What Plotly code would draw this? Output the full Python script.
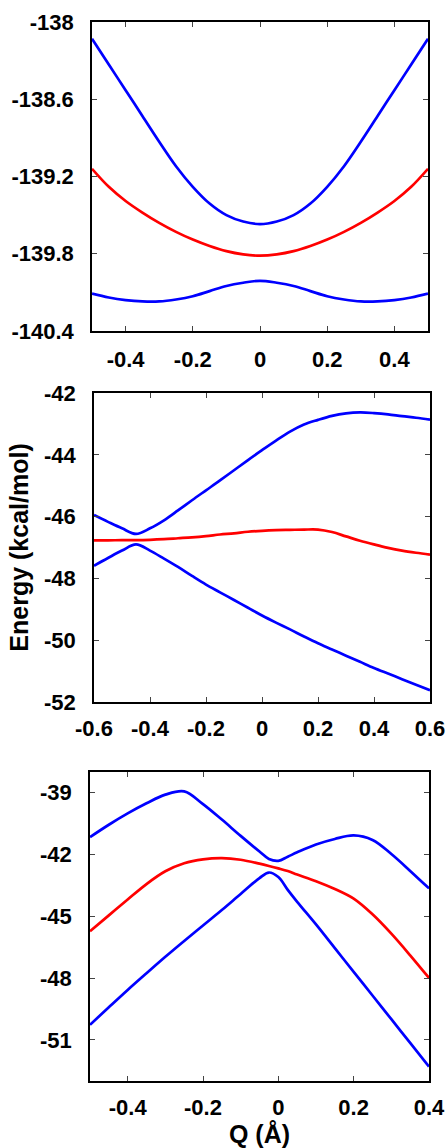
import plotly.graph_objects as go

# ---------------- data ----------------
# Panel 1
q1 = [-0.5, -0.45, -0.4, -0.35, -0.3, -0.25, -0.2, -0.15, -0.1, -0.05, 0,
      0.05, 0.1, 0.15, 0.2, 0.25, 0.3, 0.35, 0.4, 0.45, 0.5]
p1_upper = [-138.13, -138.33, -138.53, -138.73, -138.93, -139.12, -139.28, -139.41, -139.50, -139.55, -139.57,
            -139.55, -139.50, -139.41, -139.28, -139.12, -138.93, -138.73, -138.53, -138.33, -138.13]
p1_red = [-139.14, -139.28, -139.39, -139.48, -139.56, -139.63, -139.69, -139.74, -139.78, -139.805, -139.815,
          -139.805, -139.78, -139.74, -139.69, -139.63, -139.56, -139.48, -139.39, -139.28, -139.14]
p1_lower = [-140.11, -140.14, -140.16, -140.17, -140.17, -140.155, -140.13, -140.09, -140.05, -140.025, -140.01,
            -140.025, -140.05, -140.09, -140.13, -140.155, -140.17, -140.17, -140.16, -140.14, -140.11]

# Panel 2
q2 = [-0.6, -0.55, -0.5, -0.45, -0.4, -0.35, -0.3, -0.25, -0.2, -0.15, -0.1, -0.05, 0,
      0.05, 0.1, 0.15, 0.2, 0.25, 0.3, 0.35, 0.4, 0.45, 0.5, 0.55, 0.6]
p2_upper = [-45.95, -46.17, -46.38, -46.56, -46.38, -46.12, -45.80, -45.47, -45.15, -44.83, -44.50, -44.17, -43.85,
            -43.54, -43.25, -43.02, -42.87, -42.74, -42.66, -42.63, -42.65, -42.69, -42.75, -42.80, -42.86]
p2_red = [-46.77, -46.77, -46.76, -46.76, -46.75, -46.73, -46.70, -46.67, -46.63, -46.58, -46.54, -46.49, -46.46,
          -46.44, -46.43, -46.42, -46.42, -46.50, -46.64, -46.78, -46.90, -47.01, -47.10, -47.17, -47.23]
p2_lower = [-47.59, -47.34, -47.10, -46.90, -47.10, -47.36, -47.63, -47.92, -48.20, -48.45, -48.70, -48.95, -49.20,
            -49.43, -49.65, -49.88, -50.10, -50.30, -50.50, -50.70, -50.90, -51.08, -51.26, -51.44, -51.62]

# Panel 3
q3 = [-0.5, -0.45, -0.4, -0.35, -0.3, -0.25, -0.2, -0.15, -0.1, -0.05, -0.025, 0, 0.025,
      0.05, 0.1, 0.15, 0.2, 0.25, 0.3, 0.35, 0.4]
p3_upper = [-41.16, -40.56, -40.01, -39.52, -39.10, -38.94, -39.56, -40.31, -41.10, -41.86, -42.22, -42.31, -42.11,
            -41.90, -41.52, -41.25, -41.08, -41.30, -41.98, -42.80, -43.65]
p3_red = [-45.73, -44.96, -44.19, -43.44, -42.82, -42.43, -42.24, -42.18, -42.26, -42.45, -42.56, -42.68, -42.81,
          -42.98, -43.30, -43.68, -44.15, -44.91, -45.85, -46.90, -48.00]
p3_lower = [-50.27, -49.42, -48.58, -47.77, -46.97, -46.20, -45.45, -44.70, -43.92, -43.15, -42.88, -43.10, -43.72,
            -44.30, -45.40, -46.55, -47.70, -48.85, -50.00, -51.15, -52.30]

# tick labels
p1_xticks = [-0.4, -0.2, 0, 0.2, 0.4]
p1_xtext = ["-0.4", "-0.2", "0", "0.2", "0.4"]
p1_yticks = [-140.4, -139.8, -139.2, -138.6, -138]
p1_ytext = ["-140.4", "-139.8", "-139.2", "-138.6", "-138"]

p2_xticks = [-0.6, -0.4, -0.2, 0, 0.2, 0.4, 0.6]
p2_xtext = ["-0.6", "-0.4", "-0.2", "0", "0.2", "0.4", "0.6"]
p2_yticks = [-52, -50, -48, -46, -44, -42]
p2_ytext = ["-52", "-50", "-48", "-46", "-44", "-42"]

p3_xticks = [-0.4, -0.2, 0, 0.2, 0.4]
p3_xtext = ["-0.4", "-0.2", "0", "0.2", "0.4"]
p3_yticks = [-51, -48, -45, -42, -39]
p3_ytext = ["-51", "-48", "-45", "-42", "-39"]

BLUE = "#0000FF"
RED = "#FF0000"

W, H = 448, 1148

fig = go.Figure()

panels = [
    (q1, [(p1_upper, BLUE), (p1_red, RED), (p1_lower, BLUE)], "x", "y"),
    (q2, [(p2_upper, BLUE), (p2_red, RED), (p2_lower, BLUE)], "x2", "y2"),
    (q3, [(p3_upper, BLUE), (p3_red, RED), (p3_lower, BLUE)], "x3", "y3"),
]
for q, series, xa, ya in panels:
    for vals, col in series:
        fig.add_trace(go.Scatter(
            x=q, y=vals, xaxis=xa, yaxis=ya, mode="lines",
            line=dict(color=col, width=2.7, shape="spline", smoothing=1.0),
            showlegend=False, hoverinfo="skip", cliponaxis=True,
        ))

FONT = "Liberation Sans, Arial, Helvetica, sans-serif"
tickfont = dict(family=FONT, size=22, color="black", weight="bold")
titlefont = dict(family=FONT, size=25, color="black", weight="bold")


def px_dom_x(a, b):
    return [a / W, b / W]


def px_dom_y(top, bottom):
    return [(H - bottom) / H, (H - top) / H]


common = dict(
    showline=True, linecolor="black", linewidth=1.5, mirror="ticks",
    ticks="inside", ticklen=5, tickwidth=1.3, tickcolor="#444",
    showgrid=False, zeroline=False, tickfont=tickfont, automargin=False,
    tickmode="array", fixedrange=True,
)

fig.update_layout(
    width=W, height=H,
    margin=dict(l=0, r=0, t=0, b=0),
    paper_bgcolor="white", plot_bgcolor="white",
    xaxis=dict(domain=px_dom_x(92, 428), anchor="y", range=[-0.5, 0.5],
               tickvals=p1_xticks, ticktext=p1_xtext, ticklabelstandoff=8, **common),
    yaxis=dict(domain=px_dom_y(22, 331), anchor="x", range=[-140.4, -138],
               tickvals=p1_yticks, ticktext=p1_ytext, ticklabelstandoff=12, **common),
    xaxis2=dict(domain=px_dom_x(94, 430), anchor="y2", range=[-0.6, 0.6],
                tickvals=p2_xticks, ticktext=p2_xtext, ticklabelstandoff=6, **common),
    yaxis2=dict(domain=px_dom_y(393, 702), anchor="x2", range=[-52, -42],
                tickvals=p2_yticks, ticktext=p2_ytext, ticklabelstandoff=12,
                title=dict(text="Energy (kcal/mol)", font=titlefont, standoff=8), **common),
    xaxis3=dict(domain=px_dom_x(90, 429), anchor="y3", range=[-0.5, 0.4],
                tickvals=p3_xticks, ticktext=p3_xtext, ticklabelstandoff=6,
                title=dict(text="Q (Å)", font=titlefont, standoff=11), **common),
    yaxis3=dict(domain=px_dom_y(772, 1081), anchor="x3", range=[-53, -38],
                tickvals=p3_yticks, ticktext=p3_ytext, ticklabelstandoff=12, **common),
)

fig.write_html("out.html")
